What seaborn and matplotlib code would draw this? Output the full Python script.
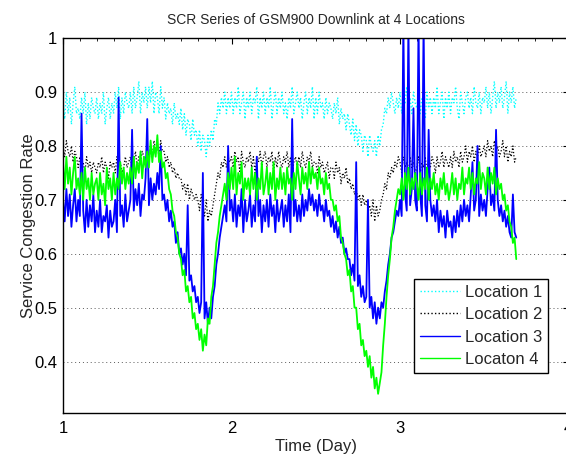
import numpy as np
import pandas as pd
import matplotlib
matplotlib.use("Agg")
import matplotlib.pyplot as plt
import seaborn as sns
from matplotlib.ticker import MultipleLocator, FixedLocator

# ---------------- data (in hundredths) -------------
start_day = 1.0
step_day = 0.01

loc1_pct = [  # Location 1 (cyan, dotted)
    88,85,90,86,89,84,88,91,86,87,
    85,89,86,90,84,88,85,89,87,86,
    89,85,88,86,90,84,87,89,85,88,
    86,90,87,91,85,89,86,90,88,87,
    90,86,91,87,89,92,86,90,88,91,
    87,91,88,92,86,90,89,86,91,87,
    89,85,88,86,87,84,88,85,86,84,
    87,83,86,82,85,84,81,85,82,83,
    80,83,79,82,81,78,82,80,83,81,
    85,84,88,86,89,87,90,86,89,87,
    90,86,89,87,91,86,88,90,85,89,
    87,90,86,89,88,91,85,89,87,90,
    86,89,87,91,85,88,90,86,89,87,
    90,86,88,85,89,87,91,86,88,90,
    87,89,85,88,90,86,89,87,91,85,
    89,86,90,87,88,85,89,86,88,87,
    85,88,86,89,84,87,85,86,83,86,
    84,82,85,81,84,80,83,82,79,82,
    81,78,82,80,79,81,78,82,80,83,
    84,87,86,89,87,90,88,86,89,87,
    90,86,89,88,91,87,89,86,90,88,
    87,90,86,89,88,85,90,87,89,86,
    89,87,91,86,88,90,85,89,87,90,
    86,89,88,91,87,85,90,88,86,89,
    90,87,89,86,91,88,87,90,86,89,
    88,91,87,90,86,89,92,87,90,88,
    91,87,89,92,86,90,88,91,87,89,
]

loc2_pct = [  # Location 2 (black, dotted)
    80,78,81,79,78,80,77,79,78,76,
    78,76,77,75,78,76,77,75,77,76,
    75,77,76,78,75,77,76,74,77,76,
    77,75,78,76,77,75,76,78,76,77,
    78,76,77,79,76,78,77,79,78,77,
    79,77,80,78,81,79,80,78,81,79,
    79,77,78,76,77,75,76,74,75,74,
    74,72,73,71,73,70,72,71,70,71,
    70,68,71,69,67,70,66,68,67,69,
    71,73,75,74,77,76,78,76,78,77,
    78,76,79,77,78,75,79,77,76,78,
    77,79,76,78,75,78,77,79,76,78,
    79,76,78,77,79,75,78,76,79,77,
    76,78,77,79,76,78,75,77,78,76,
    78,76,79,77,76,78,77,79,76,77,
    77,75,78,76,77,75,76,77,74,76,
    76,74,77,75,76,73,75,74,76,73,
    74,72,73,71,72,70,71,69,71,69,
    70,68,69,67,70,66,69,67,68,70,
    71,73,72,75,74,76,75,77,76,78,
    77,75,78,76,77,75,78,76,77,75,
    76,78,75,77,76,78,75,77,76,78,
    77,75,78,76,77,79,76,78,77,76,
    78,76,79,77,78,76,79,77,78,80,
    77,79,78,80,77,79,78,80,78,79,
    80,78,81,79,80,78,81,79,80,78,
    79,81,78,80,77,79,78,80,77,78,
]

loc3_pct = [  # Location 3 (blue, solid)
    70,66,72,67,71,65,69,72,66,70,
    67,86,68,64,70,65,69,66,71,64,
    68,65,70,64,67,66,69,63,68,65,
    66,70,64,89,67,69,65,71,66,68,
    70,83,68,72,69,73,67,71,70,74,
    85,69,74,70,73,71,75,72,80,70,
    71,68,70,66,68,65,66,62,64,60,
    61,58,60,56,69,55,56,53,54,51,
    52,49,51,75,48,51,47,50,48,52,
    54,58,60,63,65,67,69,66,80,68,
    70,66,71,65,69,67,72,64,70,66,
    68,71,65,69,66,78,67,70,64,69,
    66,70,65,71,67,69,64,70,66,68,
    70,65,69,66,71,64,85,67,70,66,
    69,66,71,67,70,68,72,69,71,68,
    70,67,71,68,69,66,70,67,68,65,
    67,64,66,63,65,62,63,60,61,59,
    59,56,58,55,77,54,56,52,54,51,
    52,70,50,52,48,51,47,50,48,51,
    50,53,55,58,60,63,64,66,68,67,
    70,67,103,71,68,103,69,72,87,70,
    68,103,71,67,103,69,66,83,70,67,
    69,66,70,64,68,65,67,63,68,65,
    66,63,67,64,68,65,69,66,70,67,
    69,66,71,77,68,70,80,67,71,68,
    70,67,72,76,69,71,68,83,70,67,
    69,66,68,65,67,64,63,71,64,63,
]

loc4_pct = [  # Locaton 4 (green, solid)
    77,72,78,73,76,71,75,78,72,74,
    71,75,70,76,72,74,70,75,71,73,
    74,70,75,71,73,69,76,72,74,70,
    75,71,74,72,77,73,76,72,75,73,
    76,73,78,74,77,75,79,74,78,76,
    79,76,81,77,80,78,82,77,79,76,
    77,74,75,72,71,68,67,64,63,60,
    59,56,57,53,54,51,52,48,49,46,
    47,44,46,42,45,43,48,47,52,54,
    58,62,64,67,69,71,73,70,75,72,
    76,72,78,71,75,73,77,70,74,72,
    74,71,76,72,75,70,74,72,77,71,
    73,76,71,75,72,77,70,74,72,76,
    72,75,71,76,73,74,70,75,72,77,
    74,71,76,73,75,72,77,73,76,74,
    75,72,76,73,74,71,75,72,73,70,
    70,68,69,66,67,63,62,60,59,56,
    57,53,54,50,50,46,47,43,44,41,
    42,39,41,37,39,35,37,34,36,38,
    43,47,52,56,59,63,65,68,70,72,
    71,74,70,75,72,76,71,74,72,75,
    73,70,75,71,74,72,76,70,74,72,
    75,71,73,70,74,72,75,71,73,70,
    72,75,71,74,70,73,72,76,71,74,
    73,76,72,75,71,74,73,77,72,75,
    74,71,76,72,75,73,76,71,74,72,
    73,70,71,68,69,66,65,62,63,59,
]

series_labels = ["Location 1", "Location 2", "Location 3", "Locaton 4"]
x_ticks = [1, 2, 3, 4]
y_ticks = [0.4, 0.5, 0.6, 0.7, 0.8, 0.9, 1.0]
y_tick_labels = ["0.4", "0.5", "0.6", "0.7", "0.8", "0.9", "1"]

# ---------------- plotting -------------
sns.set_style("white")
plt.rcParams["font.family"] = ["Liberation Sans", "DejaVu Sans"]

fig = plt.figure(figsize=(5.66, 4.54), dpi=100)
ax = fig.add_axes([63 / 566, (454 - 412.7) / 454, 505.5 / 566, 374.5 / 454])

styles = [
    dict(color=(0, 1, 1), linestyle=(0, (1, 1.6)), linewidth=1.0),
    dict(color="black", linestyle=(0, (1, 1.6)), linewidth=0.9),
    dict(color=(0, 0, 1), linestyle="-", linewidth=1.3),
    dict(color=(0, 1, 0), linestyle="-", linewidth=1.3),
]

for vals, lab, st in zip([loc1_pct, loc2_pct, loc3_pct, loc4_pct], series_labels, styles):
    v = np.array(vals, dtype=float) / 100.0
    d = start_day + step_day * np.arange(len(v))
    df = pd.DataFrame({"day": d, "scr": v})
    sns.lineplot(data=df, x="day", y="scr", ax=ax, estimator=None, sort=False,
                 label=lab, **st)

ax.set_xlim(1, 4)
ax.set_ylim(0.305, 1.0)
ax.xaxis.set_major_locator(FixedLocator(x_ticks))
ax.xaxis.set_minor_locator(MultipleLocator(0.1))
ax.yaxis.set_major_locator(FixedLocator(y_ticks))
ax.set_yticklabels(y_tick_labels)
ax.set_xticklabels([str(t) for t in x_ticks])

ax.tick_params(axis="both", which="both", direction="in", top=True, right=True,
               colors="black", labelsize=12)
ax.tick_params(axis="both", which="major", length=4, width=0.8)
ax.tick_params(axis="x", which="minor", length=2, width=0.6)
ax.tick_params(axis="x", which="major", pad=6)
ax.tick_params(axis="y", which="major", pad=4)

for s in ax.spines.values():
    s.set_visible(True)
    s.set_color("black")
    s.set_linewidth(1.0)

ax.grid(False)
ax.yaxis.grid(True, which="major", color="0.35", linestyle=(0, (1, 3)), linewidth=0.7)
ax.set_axisbelow(True)

ax.set_xlabel("Time (Day)", fontsize=12, labelpad=2)
ax.set_ylabel("Service Congestion Rate", fontsize=12, labelpad=-1.5)
ax.set_title("SCR Series of GSM900 Downlink at 4 Locations", fontsize=10, pad=10)

leg = ax.legend(loc="lower right",
                bbox_to_anchor=((548 - 63) / 505.5, 1 - (373 - 38.2) / 374.5),
                fontsize=12, frameon=True, fancybox=False, shadow=False,
                edgecolor="black", framealpha=1, handlelength=2.4,
                handletextpad=0.3, labelspacing=0.45, borderpad=0.35,
                borderaxespad=0)
leg.get_frame().set_linewidth(1.0)
for h in leg.get_lines():
    h.set_linewidth(1.0)

fig.savefig("out.png", dpi=100)
